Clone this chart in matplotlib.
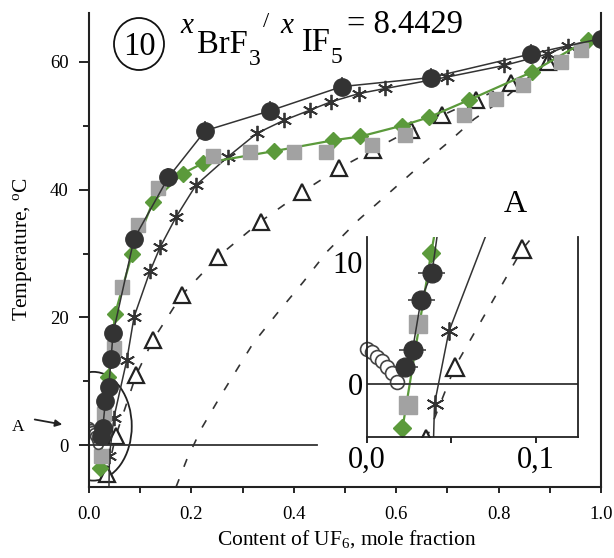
import matplotlib
matplotlib.use('Agg')
import matplotlib.pyplot as plt
from matplotlib.patches import Ellipse
import numpy as np

plt.rcParams['font.family'] = 'Liberation Serif'
plt.rcParams['mathtext.fontset'] = 'custom'
plt.rcParams['mathtext.rm'] = 'Liberation Serif'
plt.rcParams['mathtext.it'] = 'Liberation Serif:italic'

# values: x = mole fraction of UF6, t = temperature in degC
circ_x = [0.0225, 0.027, 0.032, 0.0385, 0.043, 0.047, 0.088, 0.155, 0.227, 0.353, 0.494, 0.667, 0.863, 1.0]
circ_t = [1.4, 2.8, 6.9, 9.1, 13.5, 17.5, 32.3, 41.9, 49.2, 52.3, 56.1, 57.5, 61.2, 63.6]

open_x = [0.000, 0.003, 0.006, 0.009, 0.012, 0.015, 0.018]
open_t = [2.9, 2.6, 2.2, 1.9, 1.4, 0.9, 0.2]

dia_x = [0.021, 0.038, 0.051, 0.084, 0.125, 0.183, 0.222, 0.361, 0.477, 0.530, 0.612, 0.664, 0.742, 0.866, 0.974]
dia_t = [-3.6, 10.7, 20.6, 29.9, 38.1, 42.5, 44.1, 46.0, 47.7, 48.3, 50.0, 51.3, 54.0, 58.4, 63.4]

sq_x = [0.024, 0.030, 0.048, 0.064, 0.096, 0.134, 0.243, 0.315, 0.401, 0.462, 0.553, 0.618,
        0.733, 0.795, 0.847, 0.922, 0.961]
sq_t = [-1.7, 4.9, 15.3, 24.8, 34.4, 40.2, 45.3, 45.9, 45.9, 45.9, 46.9, 48.5,
        51.6, 54.2, 56.3, 60.0, 61.8]

star_x = [0.039, 0.040, 0.0485, 0.074, 0.088, 0.119, 0.139, 0.170, 0.209, 0.271, 0.328, 0.380,
          0.431, 0.472, 0.527, 0.579, 0.700, 0.811, 0.896, 0.935, 1.0]
star_t = [-6.5, -1.6, 4.3, 13.4, 20.1, 27.2, 31.0, 35.7, 40.7, 45.1, 48.8, 50.8,
          52.4, 53.7, 55.0, 55.8, 57.6, 59.4, 61.2, 62.5, 63.6]

tri_x = [0.035, 0.052, 0.092, 0.125, 0.181, 0.252, 0.335, 0.416, 0.488, 0.555, 0.628,
         0.690, 0.755, 0.824, 0.896]
tri_t = [-4.5, 1.4, 11.0, 16.5, 23.5, 29.5, 35.0, 39.6, 43.3, 46.2, 49.3,
         51.6, 54.0, 56.6, 60.0]

# dashed curve without markers
dash_x = [0.170, 0.191, 0.220, 0.256, 0.320, 0.367, 0.419, 0.465, 0.527, 0.578, 0.636,
          0.699, 0.752, 0.812, 0.870]
dash_t = [-6.5, -2.2, 2.7, 7.6, 15.9, 20.6, 25.6, 30.3, 35.3, 38.9, 43.0,
          47.2, 51.0, 54.3, 58.3]

GREEN = '#5b9a3b'
GREY = '#a2a2a2'
DARK = '#333333'

W, H = 614, 558
fig = plt.figure(figsize=(W / 100, H / 100), dpi=100)


def fx(p):
    return p / W


def fy(p):
    return 1 - p / H


def draw(a, ms_c, ms_sq, ms_d, ms_tri, ms_st, ms_o, xe, ye, clip_open):
    a.plot(dash_x, dash_t, color=DARK, lw=1.2, dashes=(5, 8))
    a.plot(tri_x, tri_t, color=DARK, lw=1.2, dashes=(5, 8), marker='^', ms=ms_tri,
           mfc='white', mec='#222222', mew=1.6)
    a.plot(star_x[1:], star_t[1:], ls='none', marker=(6, 2, 0), ms=ms_st, mec=DARK, mew=1.3)
    a.plot(star_x, star_t, color=DARK, lw=1.1)
    a.errorbar(circ_x, circ_t, xerr=xe, yerr=ye, color=DARK, lw=1.1, elinewidth=1.1,
               capsize=0, marker='o', ms=ms_c, mfc=DARK, mec=DARK)
    a.plot(dia_x, dia_t, color=GREEN, lw=1.6, marker='D', ms=ms_d, mfc=GREEN, mec=GREEN)
    a.plot(sq_x, sq_t, ls='none', marker='s', ms=ms_sq, mfc=GREY, mec=GREY)
    a.plot(open_x, open_t, ls='none', marker='o', ms=ms_o, mfc='white', mec='#444444',
           mew=1.2, clip_on=clip_open)


# main axes
ax = fig.add_axes([fx(89), fy(487), 512 / W, 474 / H])
draw(ax, 12.5, 10, 8.5, 12, 11, 7, 0.012, 1.5, True)
ax.axhline(0, xmin=0, xmax=0.445, color=DARK, lw=1.3)
ax.add_patch(Ellipse((0.0085, 3.0), 0.150, 17.0, fill=False, ec='#222222', lw=1.3))

ax.set_xlim(0, 1.0)
ax.set_ylim(-6.5, 67.6)
ax.set_xticks(np.arange(0, 1.01, 0.2))
ax.set_xticks(np.arange(0.1, 1.0, 0.2), minor=True)
ax.set_xticklabels(['0.0', '0.2', '0.4', '0.6', '0.8', '1.0'])
ax.set_yticks([0, 20, 40, 60])
ax.set_yticks([10, 30, 50], minor=True)
ax.spines['top'].set_visible(False)
for s in ['left', 'bottom', 'right']:
    ax.spines[s].set_linewidth(1.5)
    ax.spines[s].set_color('#222222')
ax.tick_params(axis='x', which='both', length=4, width=1.2, pad=10, labelsize=13.5)
ax.tick_params(axis='y', which='major', length=7.5, width=1.2, pad=7, labelsize=13.5)
ax.tick_params(axis='y', which='minor', length=4, width=1.2)

# inset "A"
ins = fig.add_axes([fx(367), fy(437), 211 / W, 200 / H])
ins.patch.set_alpha(0)
draw(ins, 13.5, 12.5, 9.5, 13, 13, 10, 0.008, 0.6, False)
ins.axhline(0, color=DARK, lw=1.3)
ins.set_xlim(0, 0.125)
ins.set_ylim(-4.3, 12)
ins.set_xticks([0, 0.1])
ins.set_xticks([0.05], minor=True)
ins.set_xticklabels(['0,0', '0,1'])
ins.set_yticks([0, 10])
ins.set_yticklabels(['0', '10'])
ins.spines['top'].set_visible(False)
for s in ['left', 'bottom', 'right']:
    ins.spines[s].set_linewidth(1.3)
    ins.spines[s].set_color('#222222')
ins.tick_params(axis='x', which='both', length=4, width=1.2, pad=2, labelsize=22)
ins.tick_params(axis='y', length=0, pad=3, labelsize=22)

fig.text(fx(515), fy(212), 'A', ha='center', va='baseline', fontsize=23)

# "A" pointer to the ellipse
fig.text(fx(18), fy(427), 'A', ha='center', va='center', fontsize=12.5)
ax.annotate('', xy=(65, H - 425), xycoords='figure pixels', xytext=(32, H - 419),
            textcoords='figure pixels',
            arrowprops=dict(arrowstyle='-|>', color='#222222', lw=1.3, mutation_scale=10))

# header: circled 10 and the BrF3/IF5 ratio
fig.add_artist(Ellipse((fx(139), fy(44)), 50 / W, 52 / H, transform=fig.transFigure,
                       fill=False, ec='#111111', lw=1.3))
fig.text(fx(139), fy(55), '10', ha='center', va='baseline', fontsize=23.5)
fig.text(fx(180), fy(33), 'x', style='italic', va='baseline', fontsize=21)
fig.text(fx(197), fy(53), 'BrF', va='baseline', fontsize=23.5)
fig.text(fx(249), fy(65), '3', va='baseline', fontsize=17)
fig.text(fx(263), fy(27), '/', va='baseline', fontsize=16)
fig.text(fx(280), fy(33), 'x', style='italic', va='baseline', fontsize=21)
fig.text(fx(302), fy(51), 'IF', va='baseline', fontsize=23.5)
fig.text(fx(331), fy(63), '5', va='baseline', fontsize=17)
fig.text(fx(347), fy(33), '= 8.4429', va='baseline', fontsize=23.5)

fig.text(fx(347), fy(545), 'Content of UF$_6$, mole fraction', ha='center', va='baseline',
         fontsize=15.5)
fig.text(fx(22), fy(249), 'Temperature, $^{\\rm o}$C', rotation=90, ha='center',
         va='center', fontsize=15.5)

fig.savefig('out.png', dpi=100)
